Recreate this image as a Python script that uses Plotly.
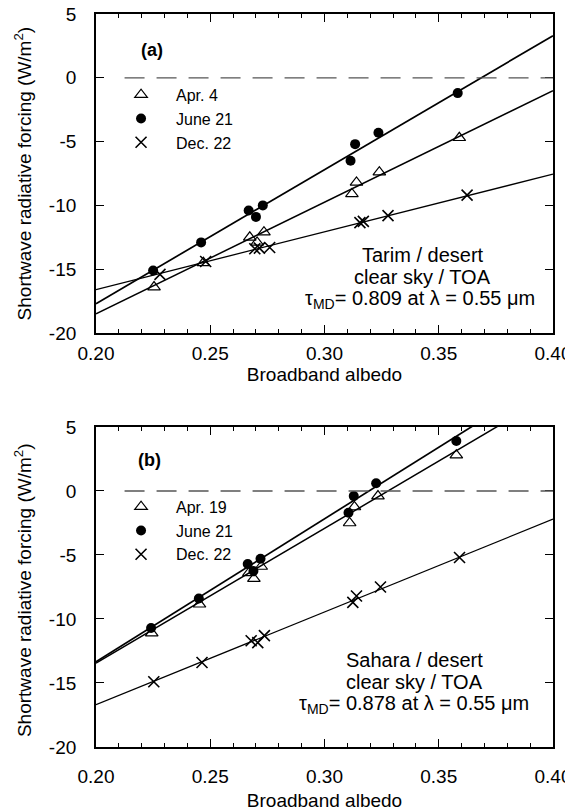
import plotly.graph_objects as go
from plotly.subplots import make_subplots

# ---------------- data ----------------
# Panel (a) Tarim
a_apr_x = [0.2254, 0.247, 0.2673, 0.2705, 0.2735, 0.312, 0.314, 0.324, 0.359]
a_apr_y = [-16.4, -14.5, -12.5, -12.9, -12.1, -9.1, -8.2, -7.4, -4.7]
a_jun_x = [0.225, 0.246, 0.2668, 0.270, 0.273, 0.3114, 0.3134, 0.3236, 0.3583]
a_jun_y = [-15.1, -12.9, -10.4, -10.9, -10.0, -6.5, -5.2, -4.3, -1.2]
a_dec_x = [0.228, 0.248, 0.2695, 0.2715, 0.276, 0.3155, 0.317, 0.3278, 0.3624]
a_dec_y = [-15.4, -14.4, -13.4, -13.35, -13.3, -11.35, -11.25, -10.8, -9.2]
# fitted lines (end values at x = 0.20 and 0.40)
line_x = [0.20, 0.40]
a_apr_line = [-18.5, -1.0]
a_jun_line = [-17.7, 3.3]
a_dec_line = [-16.6, -7.55]

# Panel (b) Sahara
b_apr_x = [0.2244, 0.2453, 0.2669, 0.2691, 0.2723, 0.311, 0.3131, 0.3234, 0.3577]
b_apr_y = [-11.1, -8.85, -6.4, -6.85, -5.9, -2.5, -1.25, -0.4, 2.8]
b_jun_x = [0.2241, 0.245, 0.2664, 0.2689, 0.272, 0.3105, 0.3128, 0.3226, 0.3577]
b_jun_y = [-10.7, -8.4, -5.7, -6.25, -5.3, -1.7, -0.4, 0.6, 3.9]
b_dec_x = [0.2253, 0.2464, 0.2679, 0.2708, 0.2737, 0.3124, 0.314, 0.3245, 0.3591]
b_dec_y = [-14.9, -13.4, -11.7, -11.85, -11.3, -8.7, -8.2, -7.5, -5.2]
b_apr_line = [-13.45, 7.6]
b_jun_line = [-13.35, 9.0]
b_dec_line = [-16.7, -2.2]

x_tickvals = [0.20, 0.25, 0.30, 0.35, 0.40]
x_ticktext = ["0.20", "0.25", "0.30", "0.35", "0.40"]
y_tickvals = [-20, -15, -10, -5, 0, 5]
y_ticktext = ["-20", "-15", "-10", "-5", "0", "5"]

a_labels = ["Apr. 4", "June 21", "Dec. 22"]
b_labels = ["Apr. 19", "June 21", "Dec. 22"]

# ---------------- figure ----------------
FONT = "Liberation Sans, Arial, Helvetica, sans-serif"
fig = make_subplots(rows=2, cols=1)

tri = dict(symbol="triangle-up-open", size=11, color="black", line=dict(width=1.2, color="black"))
dot = dict(symbol="circle", size=10, color="black")
crs = dict(symbol="x-thin-open", size=11, color="black", line=dict(width=1.6, color="black"))

def add_panel(row, legend, labels, apr, jun, dec, lines):
    for (ly, w) in zip(lines, [1.5, 1.7, 1.3]):
        fig.add_trace(go.Scatter(x=line_x, y=ly, mode="lines", line=dict(color="black", width=w),
                                 showlegend=False, hoverinfo="skip"), row=row, col=1)
    for (xs, ys), mk, name in zip([apr, jun, dec], [tri, dot, crs], labels):
        fig.add_trace(go.Scatter(x=xs, y=ys, mode="markers", marker=mk, name=name,
                                 legend=legend), row=row, col=1)

add_panel(1, "legend", a_labels, (a_apr_x, a_apr_y), (a_jun_x, a_jun_y), (a_dec_x, a_dec_y),
          [a_apr_line, a_jun_line, a_dec_line])
add_panel(2, "legend2", b_labels, (b_apr_x, b_apr_y), (b_jun_x, b_jun_y), (b_dec_x, b_dec_y),
          [b_apr_line, b_jun_line, b_dec_line])

for r, (xr, yr) in enumerate([("x", "y"), ("x2", "y2")], start=1):
    fig.add_shape(type="line", x0=0.2125, x1=0.40, y0=0, y1=0, xref=xr, yref=yr,
                  line=dict(color="#555555", width=1.3, dash="20px,12px"))

axis_common = dict(showgrid=False, zeroline=False, showline=True, linecolor="black", linewidth=1.8,
                   mirror="ticks", ticks="inside", tickcolor="black", tickwidth=1.3, automargin=False,
                   ticklabeloverflow="allow",
                   tickfont=dict(family=FONT, size=19, color="black"))
for r in (1, 2):
    fig.update_xaxes(range=[0.20, 0.40], tickvals=x_tickvals, ticktext=x_ticktext, ticklen=8,
                     minor=dict(dtick=0.01, ticks="inside", ticklen=4, tickcolor="black", tickwidth=1.2),
                     title=dict(text="Broadband albedo", font=dict(family=FONT, size=19, color="black"),
                                standoff=1 if r == 1 else 8),
                     ticklabelstandoff=2 if r == 1 else 11,
                     row=r, col=1, **axis_common)
    fig.update_yaxes(range=[-20, 5], tickvals=y_tickvals, ticktext=y_ticktext, ticklen=8,
                     ticklabelstandoff=14,
                     row=r, col=1, **axis_common)
fig.update_yaxes(domain=[0.5648, 1.0], row=1, col=1)
fig.update_yaxes(domain=[0.0, 0.4366], row=2, col=1)

ann_font = dict(family=FONT, size=20, color="black")
ytitle = "Shortwave radiative forcing (W/m<sup>2</sup>)"
anns = [
    dict(x=-0.16, y=0.5, xref="paper", yref="y domain", text=ytitle, textangle=-90, showarrow=False,
         xanchor="center", yanchor="middle", font=dict(family=FONT, size=19, color="black")),
    dict(x=-0.16, y=0.49, xref="paper", yref="y2 domain", text=ytitle, textangle=-90, showarrow=False,
         xanchor="center", yanchor="middle", font=dict(family=FONT, size=19, color="black")),
    dict(x=0.2245, y=2.2, xref="x", yref="y", text="<b>(a)</b>", showarrow=False,
         font=dict(family=FONT, size=18, color="black")),
    dict(x=0.343, y=-13.9, xref="x", yref="y", text="Tarim / desert", showarrow=False, font=ann_font),
    dict(x=0.343, y=-15.6, xref="x", yref="y", text="clear sky / TOA", showarrow=False, font=ann_font),
    dict(x=0.342, y=-17.4, xref="x", yref="y", text="τ<sub>MD</sub>= 0.809 at λ = 0.55 μm",
         showarrow=False, font=ann_font),
    dict(x=0.2236, y=2.45, xref="x2", yref="y2", text="<b>(b)</b>", showarrow=False,
         font=dict(family=FONT, size=18, color="black")),
    dict(x=0.3085, y=-13.2, xref="x2", yref="y2", text="Sahara / desert", showarrow=False,
         xanchor="left", font=ann_font),
    dict(x=0.3085, y=-14.9, xref="x2", yref="y2", text="clear sky / TOA", showarrow=False,
         xanchor="left", font=ann_font),
    dict(x=0.339, y=-16.7, xref="x2", yref="y2", text="τ<sub>MD</sub>= 0.878 at λ = 0.55 μm",
         showarrow=False, font=ann_font),
]

leg_common = dict(xanchor="left", yanchor="top", bgcolor="rgba(0,0,0,0)", itemwidth=60,
                  font=dict(family=FONT, size=16, color="black"), tracegroupgap=0)
fig.update_layout(
    width=573, height=811,
    margin=dict(l=88, r=28, t=6, b=72, autoexpand=False),
    paper_bgcolor="white", plot_bgcolor="white",
    annotations=anns,
    legend=dict(x=0.022, y=0.913, **leg_common),
    legend2=dict(x=0.022, y=0.351, **leg_common),
)

fig.write_html("out.html")
